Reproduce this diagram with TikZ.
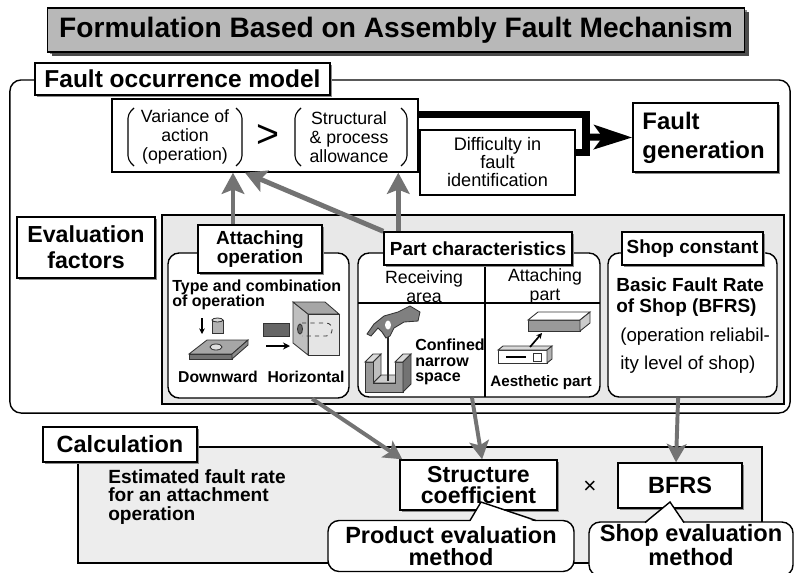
\documentclass[tikz,border=0pt]{standalone}
\usepackage{fontspec}
\setmainfont{Liberation Sans}
\usetikzlibrary{positioning,arrows.meta,shadows}
\newcommand*{\fsz}[2]{\fontsize{#1}{#2}\selectfont}

\begin{document}
\begin{tikzpicture}[x=0.025cm, y=-0.025cm,
  % common options for the heading boxes:
  tag/.style = {draw, fill=white, line width=1pt, align=center, inner sep=0,
              drop shadow={shadow xshift=1.5pt, shadow yshift=-1.5pt,
                           fill=black!45, opacity=1}},
  % rounded boxes for the factors and notes:
  roundbox/.style = {draw, fill=white, rounded corners=0.28cm, line width=1pt,
              align=center, inner sep=0},
  % shaded areas:
  panel/.style = {draw, line width=1pt, inner sep=0},
  plainbox/.style = {draw, fill=white, line width=1pt, align=center, inner sep=0},
  txt/.style = {inner sep=0, align=center},
  % arrows between the blocks:
  feed/.style = {draw=black!55, line width=3.5pt,
              -{Stealth[length=15pt,width=16pt,inset=3pt]}},
  feedthin/.style = {draw=black!55, line width=2.8pt,
              -{Stealth[length=13pt,width=14pt,inset=3pt]}},
  fat/.style = {line width=5pt},
  icon/.style = {line width=0.6pt, draw=black!80}]

\useasboundingbox (0,0) rectangle (799,572);

% heading
\node[tag, fill=black!28, minimum width=17.425cm, minimum height=1.1cm,
  font=\fsz{20}{24}\bfseries,
  drop shadow={shadow xshift=3pt, shadow yshift=-3pt, fill=black!70, opacity=1}]
  (title) at (396,30) {Formulation Based on Assembly Fault Mechanism};

% frame of the fault model
\node[roundbox, minimum width=19.5cm, minimum height=8.325cm] (model) at (400,246.5) {};
\node[tag, minimum width=7.375cm, minimum height=0.8cm, font=\fsz{17.4}{20}\bfseries]
  (modeltag) at (182.5,79) {Fault occurrence model};

% fault condition
\node[plainbox, minimum width=7.65cm, minimum height=1.825cm] (formula) at (265,135.5) {};
\node[txt, font=\fsz{12.6}{13.5}] (variance) at (185,137) {Variance of\\action\\(operation)};
\node[txt, font=\fsz{28}{28}] (greater) at (268,136) {>};
\node[txt, font=\fsz{12.6}{13.5}] (allowance) at (349,137) {Structural\\\& process\\allowance};
\draw[line width=0.8pt, rounded corners=3pt] (134,108) -- (128,114) -- (128,160) -- (134,166);
\draw[line width=0.8pt, rounded corners=3pt] (236,108) -- (242,114) -- (242,160) -- (236,166);
\draw[line width=0.8pt, rounded corners=3pt] (301,108) -- (295,114) -- (295,160) -- (301,166);
\draw[line width=0.8pt, rounded corners=3pt] (401,108) -- (407,114) -- (407,160) -- (401,166);

\node[plainbox, minimum width=3.875cm, minimum height=1.625cm, font=\fsz{12.9}{12.8}]
  (difficulty) at (497.5,162.5) {Difficulty in\\fault\\identification};

\node[tag, minimum width=3.625cm, minimum height=1.725cm, text width=3.15cm, align=left,
  font=\fsz{17}{20.5}\bfseries] (faultgen) at (705.5,137.5) {Fault\\generation};

% both feed the fault generation
\coordinate (merge) at (586,137);
\draw[fat] ([yshift=-0.4cm]formula.north east) -| (merge);
\draw[fat] ([yshift=0.26cm]difficulty.east) -| (merge);
\draw[fat, -{Stealth[length=27pt,width=17pt,inset=6pt]}] (merge) -- (faultgen.west);

% evaluation factors
\node[tag, minimum width=3.45cm, minimum height=1.525cm, font=\fsz{16.5}{18.4}\bfseries]
  (evaltag) at (86,247.5) {Evaluation\\factors};
\node[panel, fill=black!9, minimum width=15.55cm, minimum height=4.725cm] (factors) at (473,309.5) {};

\node[roundbox, minimum width=4.525cm, minimum height=3.625cm] (attbox) at (258.5,325.5) {};
\node[roundbox, minimum width=6.05cm, minimum height=3.6cm] (partbox) at (479,325) {};
\node[roundbox, minimum width=4.225cm, minimum height=3.6cm] (shopbox) at (692.5,325) {};

\draw[line width=0.8pt] (485,265) -- (485,397);
\draw[line width=0.8pt] (358,303) -- (600,303);

\node[tag, minimum width=3.1cm, minimum height=1.2cm, font=\fsz{13.5}{13}\bfseries]
  (atttag) at (260,249) {Attaching\\operation};
\node[tag, minimum width=4.7cm, minimum height=0.825cm, font=\fsz{13.5}{16}\bfseries]
  (parttag) at (478,248.5) {Part characteristics};
\node[tag, minimum width=3.525cm, minimum height=0.825cm, font=\fsz{13.5}{16}\bfseries]
  (shoptag) at (692.5,248.5) {Shop constant};

% attaching operation
\node[txt, align=left, anchor=west, font=\fsz{11.4}{10.8}\bfseries] (typeop) at (172,294.5)
  {Type and combination\\of operation};
\node[txt, font=\fsz{11.2}{12}\bfseries] (downward) at (218,377) {Downward};
\node[txt, font=\fsz{11.2}{12}\bfseries] (horizontal) at (306,377) {Horizontal};

% plate with hole, part coming down
\filldraw[icon, fill=black!35] (189,354) -- (207,340) -- (248,340) -- (232,354) -- cycle;
\filldraw[icon, fill=black!55] (189,354) -- (232,354) -- (232,359) -- (189,359) -- cycle;
\filldraw[icon, fill=black!45] (232,354) -- (248,340) -- (248,345) -- (232,359) -- cycle;
\filldraw[icon, fill=black!12] (216,347) ellipse (6 and 3);
\filldraw[icon, fill=black!30] (212,320) rectangle (223,333);
\filldraw[icon, fill=black!15] (217.5,320) ellipse (5.5 and 2);
\draw[line width=1pt, -{Stealth[length=4pt,width=4pt]}] (202,318) -- (202,334);

% block pushed into a housing
\filldraw[icon, fill=black!60] (263,323) rectangle (289,336);
\draw[line width=1pt, -{Stealth[length=5pt,width=5pt]}] (266,346) -- (290,346);
\filldraw[icon, fill=black!25] (293,302) -- (308,314) -- (308,355) -- (293,343) -- cycle;
\filldraw[icon, fill=black!35] (293,302) -- (325,302) -- (339,314) -- (308,314) -- cycle;
\filldraw[icon, fill=black!10] (308,314) rectangle (339,355);
\filldraw[icon, fill=black!60] (300,329) ellipse (2.5 and 5);
\draw[icon, dashed] (302,323) -- (326,323) to[out=0,in=0,looseness=1.6] (326,336) -- (302,336);

% part characteristics
\node[txt, font=\fsz{12.6}{13.5}] (receiving) at (424,286.5) {Receiving\\area};
\node[txt, font=\fsz{12.6}{13.5}] (attpart) at (545,286.5) {Attaching\\part};
\node[txt, align=left, anchor=west, font=\fsz{11.4}{11}\bfseries] (confined) at (415,362)
  {Confined\\narrow\\space};
\node[txt, font=\fsz{10.8}{12}\bfseries] (aesthetic) at (541,383) {Aesthetic part};

% narrow channel with hand and tool
\filldraw[icon, fill=black!20] (373,383) -- (381,375) -- (403,375) -- (395,383) -- cycle;
\filldraw[icon, fill=black!25] (373,362) -- (381,354) -- (381,375) -- (373,383) -- cycle;
\filldraw[icon, fill=black!40] (365,392) -- (365,362) -- (373,362) -- (373,383) -- (395,383)
  -- (395,362) -- (403,362) -- (403,392) -- cycle;
\filldraw[icon, fill=black!15] (365,362) -- (373,354) -- (381,354) -- (373,362) -- cycle;
\filldraw[icon, fill=black!15] (395,362) -- (403,354) -- (411,354) -- (403,362) -- cycle;
\filldraw[icon, fill=black!55] (403,392) -- (411,384) -- (411,354) -- (403,362) -- cycle;
\draw[line width=1.6pt, black!85] (388,334) -- (388,381);
\filldraw[icon, fill=black!50] (420,312) -- (410,306) -- (398,312) -- (384,316) -- (374,324)
  -- (367,334) -- (371,336) -- (378,328) -- (382,332) -- (386,338) -- (390,336) -- (394,328)
  -- (404,322) -- (418,321) -- cycle;
\fill[white] (388,325) ellipse (3 and 4.5);

% housing and cover part
\filldraw[icon, fill=black!40] (528,320) rectangle (580,331);
\filldraw[icon, fill=white] (528,320) -- (538,312) -- (590,312) -- (580,320) -- cycle;
\filldraw[icon, fill=black!20] (580,320) -- (590,312) -- (590,323) -- (580,331) -- cycle;
\filldraw[icon, fill=white] (498,350) rectangle (547,363);
\filldraw[icon, fill=black!15] (498,350) -- (503,346) -- (552,346) -- (547,350) -- cycle;
\filldraw[icon, fill=black!30] (547,350) -- (552,346) -- (552,359) -- (547,363) -- cycle;
\draw[line width=1.5pt] (506,357) -- (526,357);
\draw[icon] (533,353) rectangle (541,361);
\draw[line width=1.2pt, -{Stealth[length=4pt,width=4pt]}] (530,347) -- (542,333);

% shop constant
\node[txt, align=left, anchor=west, font=\fsz{13.5}{15}\bfseries] (bfrsname) at (616,297.5)
  {Basic Fault Rate\\of Shop (BFRS)};
\node[txt, align=left, anchor=west, font=\fsz{13.3}{19.8}] (reliability) at (620,351)
  {(operation reliabil-\\ity level of shop)};

% factors act on the fault condition
\draw[feed] ([xshift=-0.675cm]atttag.north) -- ([xshift=-0.675cm]atttag.north |- formula.south);
\draw[feed] (parttag.north west) -- ([xshift=-0.5cm]formula.south);
\draw[feed] ([xshift=0.375cm]parttag.north west) -- ([xshift=0.375cm]parttag.north west |- formula.south);

% calculation
\node[panel, fill=black!7, minimum width=17.1cm, minimum height=2.9cm] (calc) at (420,505) {};
\node[tag, minimum width=3.85cm, minimum height=0.875cm, font=\fsz{16.7}{20}\bfseries]
  (calctag) at (120,444.5) {Calculation};
\node[txt, align=left, anchor=west, font=\fsz{13.6}{13.2}\bfseries] (estimated) at (108,497)
  {Estimated fault rate\\for an attachment\\operation};

\node[tag, minimum width=3.925cm, minimum height=1.25cm, font=\fsz{16.4}{15}\bfseries]
  (structure) at (478.5,485) {Structure\\coefficient};
\node[txt, font=\fsz{16}{16}] (times) at (590,487) {×};
\node[tag, minimum width=3.1cm, minimum height=1.125cm, font=\fsz{16.7}{20}\bfseries]
  (bfrs) at (680,485.5) {BFRS};

% factors go into the calculation
\draw[feedthin] ([xshift=1.34cm]attbox.south) -- ([xshift=0.075cm]structure.north west);
\draw[feedthin] ([xshift=-0.175cm]partbox.south) -- ([xshift=0.09cm]structure.north);
\draw[feedthin] ([xshift=-0.36cm]shopbox.south) -- ([xshift=-0.1cm]bfrs.north);

% callouts naming the methods
\node[roundbox, minimum width=6.15cm, minimum height=1.275cm, font=\fsz{16.7}{15.5}\bfseries]
  (prodcall) at (451,546) {Product evaluation\\method};
\coordinate (prodtip) at (481,502);
\fill[white] (prodtip) -- (470,522) -- (536,522) -- cycle;
\draw[line width=1pt] (470,520.5) -- (prodtip) -- (536,520.5);

\node[roundbox, minimum width=5.1cm, minimum height=1.35cm] (shopcall) at (691,549) {};
\node[txt, font=\fsz{16.8}{15.5}\bfseries] (shopcalltext) at (691,545) {Shop evaluation\\method};
\coordinate (shoptip) at (670,502);
\fill[white] (shoptip) -- (645,524) -- (684,524) -- cycle;
\draw[line width=1pt] (645,522.5) -- (shoptip) -- (684,522.5);
\end{tikzpicture}
\end{document}
